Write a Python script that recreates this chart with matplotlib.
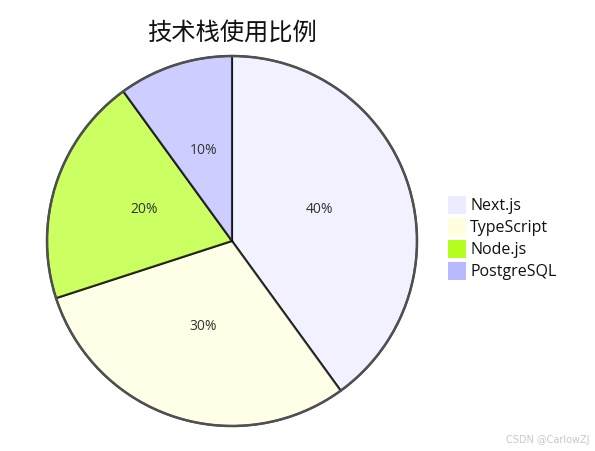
import matplotlib
matplotlib.use("Agg")
import matplotlib.pyplot as plt
from matplotlib.patches import Rectangle, Circle

labels = ["Next.js", "TypeScript", "Node.js", "PostgreSQL"]
values = [40, 30, 20, 10]
legend_colors = ["#ECECFF", "#FFFFDE", "#B5FF20", "#B9B9FF"]
title = "技术栈使用比例"

W, H = 595, 452
fig = plt.figure(figsize=(W / 100, H / 100), dpi=100)
ax = fig.add_axes([0, 0, 1, 1])

cx, cy, R = 232, H - 242, 185
wedges, texts, autotexts = ax.pie(
    values, center=(cx, cy), radius=R, startangle=90, counterclock=False,
    colors=legend_colors, autopct="%1.0f%%", pctdistance=0.5,
    wedgeprops=dict(edgecolor="black", linewidth=1.5, alpha=0.7),
    textprops=dict(fontsize=10, color="#333333", family=["Open Sans", "DejaVu Sans"]),
)
for w in wedges:
    w.set_edgecolor((0, 0, 0, 1))
for t in autotexts:
    t.set_verticalalignment("baseline")
ax.add_patch(Circle((cx, cy), R, fill=False, edgecolor="#505050", linewidth=1.8))

ax.set_xlim(0, W)
ax.set_ylim(0, H)
ax.set_aspect("equal")
ax.axis("off")

ax.text(cx, H - 33, title, ha="center", va="center", fontsize=17.5,
        family=["Noto Sans CJK SC", "DejaVu Sans"], color="#111111")

for i, (lab, col) in enumerate(zip(labels, legend_colors)):
    yc = H - (206 + 22 * i)
    ax.add_patch(Rectangle((448, yc - 9), 18, 18, facecolor=col, edgecolor="none"))
    ax.text(470, yc, lab, ha="left", va="center", fontsize=11.5,
            family=["Open Sans", "DejaVu Sans"], color="#111111")

ax.text(590, H - 440, "CSDN @CarlowZJ", ha="right", va="center", fontsize=7,
        color="#c8c8c8", family=["DejaVu Sans"])

fig.savefig("out.png", dpi=100)
